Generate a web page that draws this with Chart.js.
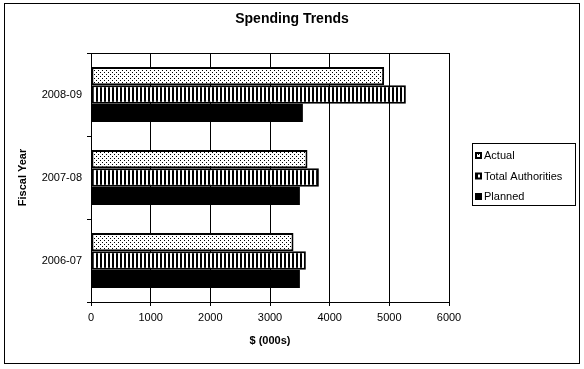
<!DOCTYPE html>
<html>
<head>
<meta charset="utf-8">
<script src="https://cdn.jsdelivr.net/npm/chart.js@4/dist/chart.umd.min.js"></script>
<style>
    html, body { margin: 0; padding: 0; background: #fff; }
    #wrap { width: 584px; height: 369px; }
</style>
</head>
<body>
<div id="wrap"><canvas id="spendChart" width="584" height="369"></canvas></div>
<script>
const chartTitle = 'Spending Trends';
const fiscalYears = ['2008-09', '2007-08', '2006-07'];
const seriesNames = ['Actual', 'Total Authorities', 'Planned'];
const actualData = [4913, 3628, 3394];
const authoritiesData = [5277, 3819, 3601];
const plannedData = [3551, 3501, 3501];
const xTicks = [0, 1000, 2000, 3000, 4000, 5000, 6000];

const FONT = "'Liberation Sans', Arial, sans-serif";

function makePattern(w, h, draw) {
    const c = document.createElement('canvas');
    c.width = w;
    c.height = h;
    const g = c.getContext('2d');
    g.fillStyle = '#fff';
    g.fillRect(0, 0, w, h);
    g.fillStyle = '#000';
    draw(g);
    return document.createElement('canvas').getContext('2d').createPattern(c, 'repeat');
}

// sparse dots for "Actual"
const dotPattern = makePattern(4, 4, g => {
    g.fillRect(0, 0, 1, 1);
    g.fillRect(2, 2, 1, 1);
});
// vertical stripes for "Total Authorities"
const stripePattern = makePattern(4, 4, g => {
    g.fillRect(0, 0, 2, 4);
});

const fills = [dotPattern, stripePattern, '#000'];

const framePlugin = {
    id: 'frame',
    afterDraw(chart) {
        const ctx = chart.ctx;
        const a = chart.chartArea;
        ctx.save();
        ctx.strokeStyle = '#000';
        ctx.lineWidth = 1;
        // outer border
        ctx.strokeRect(4.5, 3.5, 575, 360);

        // title, centred on the whole frame
        ctx.fillStyle = '#000';
        ctx.font = 'bold 14px ' + FONT;
        ctx.textAlign = 'center';
        ctx.textBaseline = 'middle';
        ctx.fillText(chartTitle, 292, 19);

        // plot area top/right
        ctx.beginPath();
        ctx.moveTo(Math.round(a.left) + 0.5, Math.round(a.top) + 0.5);
        ctx.lineTo(Math.round(a.right) + 0.5, Math.round(a.top) + 0.5);
        ctx.lineTo(Math.round(a.right) + 0.5, Math.round(a.bottom) + 0.5);
        ctx.stroke();
        // y tick at the top edge
        ctx.beginPath();
        ctx.moveTo(Math.round(a.left) - 3, Math.round(a.top) + 0.5);
        ctx.lineTo(Math.round(a.left), Math.round(a.top) + 0.5);
        ctx.stroke();

        // legend
        ctx.strokeRect(472.5, 143.5, 103, 62);
        ctx.font = '11px ' + FONT;
        ctx.textAlign = 'left';
        const rowsY = [156, 176.5, 197];
        seriesNames.forEach((name, i) => {
            const y = rowsY[i];
            ctx.fillStyle = '#000';
            ctx.fillRect(475, y - 4, 7, 7);
            if (i < 2) {
                ctx.fillStyle = fills[i];
                ctx.fillRect(477, y - 2, 3, 3);
            }
            ctx.fillStyle = '#000';
            ctx.fillText(name, 484, y);
        });
        ctx.restore();
    }
};

new Chart(document.getElementById('spendChart'), {
    type: 'bar',
    data: {
        labels: fiscalYears,
        datasets: [
            { label: seriesNames[0], data: actualData },
            { label: seriesNames[1], data: authoritiesData },
            { label: seriesNames[2], data: plannedData }
        ].map((ds, i) => ({
            ...ds,
            backgroundColor: fills[i],
            borderColor: '#000',
            borderWidth: i < 2 ? 2 : 0,
            borderSkipped: false,
            barPercentage: 1,
            categoryPercentage: 0.66
        }))
    },
    options: {
        indexAxis: 'y',
        responsive: false,
        animation: false,
        events: [],
        layout: { padding: { left: 0, right: 135, top: 53, bottom: 0 } },
        plugins: {
            legend: { display: false },
            tooltip: { enabled: false },
            title: { display: false }
        },
        scales: {
            x: {
                min: 0,
                max: 6000,
                afterBuildTicks: axis => { axis.ticks = xTicks.map(v => ({ value: v })); },
                afterFit: axis => { axis.height = 67; },
                grid: { color: '#000', lineWidth: 1, tickLength: 4, drawTicks: true },
                border: { display: true, color: '#000', width: 1 },
                ticks: {
                    color: '#000',
                    padding: 5,
                    maxRotation: 0,
                    font: { family: FONT, size: 11 },
                    callback: value => String(value)
                },
                title: {
                    display: true,
                    text: '$ (000s)',
                    color: '#000',
                    font: { family: FONT, size: 11, weight: 'bold' },
                    padding: { top: 0, bottom: 21.4 }
                }
            },
            y: {
                afterFit: axis => { axis.width = 91; },
                grid: { drawOnChartArea: false, color: '#000', tickLength: 4, offset: true },
                border: { display: true, color: '#000', width: 1 },
                ticks: {
                    color: '#000',
                    padding: 5,
                    font: { family: FONT, size: 11 }
                },
                title: {
                    display: true,
                    text: 'Fiscal Year',
                    color: '#000',
                    font: { family: FONT, size: 11, weight: 'bold' },
                    padding: { top: 16.4, bottom: 0 }
                }
            }
        }
    },
    plugins: [framePlugin]
});
</script>
</body>
</html>
